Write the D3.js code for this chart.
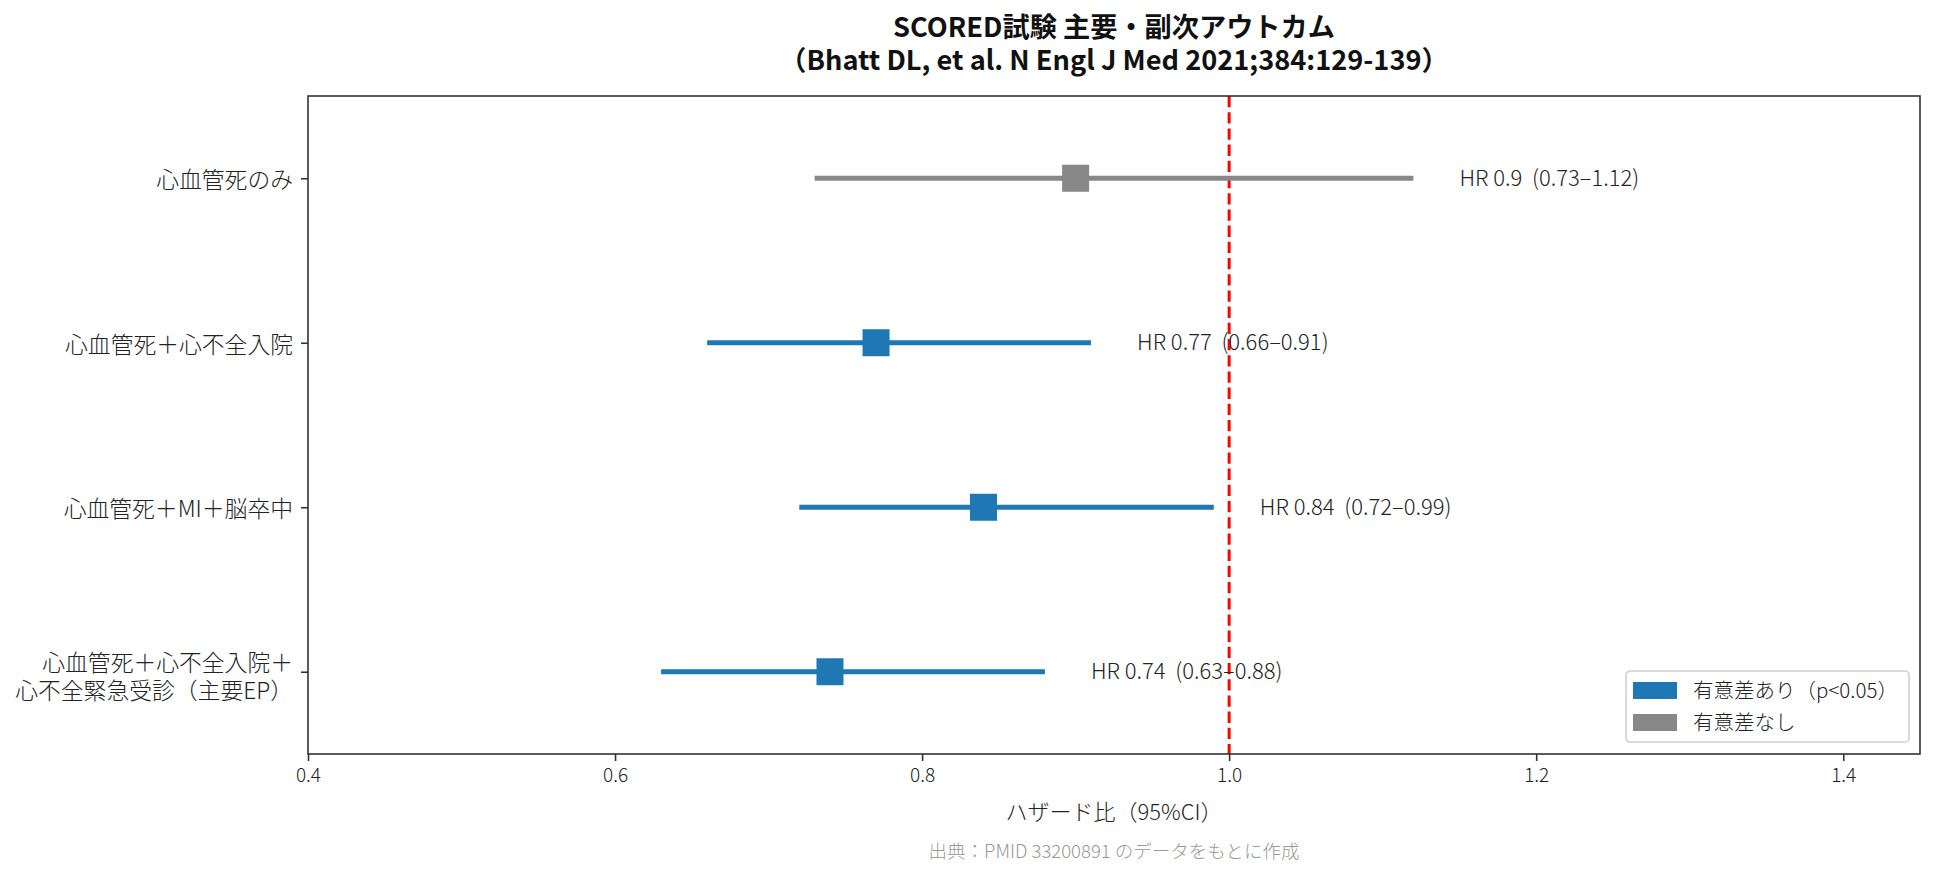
<!DOCTYPE html>
<html>
<head>
<meta charset="utf-8">
<script src="https://cdn.jsdelivr.net/npm/d3@7"></script>
<style>
  body { margin: 0; background: #fff; }
  svg text { font-family: "Noto Sans CJK JP", "Noto Sans", sans-serif; }
</style>
</head>
<body>
<div id="chart"></div>
<script>
// values
const outcomes = ["心血管死のみ", "心血管死＋心不全入院", "心血管死＋MI＋脳卒中", "心血管死＋心不全入院＋\n心不全緊急受診（主要EP）"];
const hr = [0.9, 0.77, 0.84, 0.74];
const ciLow = [0.73, 0.66, 0.72, 0.63];
const ciHigh = [1.12, 0.91, 0.99, 0.88];
const significant = [false, true, true, true];
const xTicks = [0.4, 0.6, 0.8, 1.0, 1.2, 1.4];
const legendLabels = ["有意差あり（p<0.05）", "有意差なし"];

const width = 1934, height = 878;
const padding = { t: 96, b: 124, s: 308, e: 14 };
const blue = "#1f77b4", grey = "#888888";

const svg = d3.select("#chart").append("svg").attr("width", width).attr("height", height);
svg.append("rect").attr("width", width).attr("height", height).attr("fill", "#fff");

const xScale = d3.scaleLinear().domain([0.4, 1.45]).range([padding.s, width - padding.e]);
const yScale = d3.scalePoint().domain(outcomes).range([padding.t, height - padding.b]).padding(0.5);
const cx = (padding.s + width - padding.e) / 2;

// title, two lines
svg.append("text").attr("x", cx).attr("y", 37).attr("text-anchor", "middle")
  .attr("font-size", 27.2).attr("font-weight", 700).attr("fill", "#111")
  .text("SCORED試験 主要・副次アウトカム");
svg.append("text").attr("x", cx).attr("y", 70).attr("text-anchor", "middle")
  .attr("font-size", 27.2).attr("font-weight", 700).attr("fill", "#111")
  .text("（Bhatt DL, et al. N Engl J Med 2021;384:129-139）");

// reference line at HR = 1
svg.append("line")
  .attr("x1", xScale(1)).attr("x2", xScale(1))
  .attr("y1", padding.t).attr("y2", height - padding.b)
  .attr("stroke", "red").attr("stroke-width", 3).attr("stroke-dasharray", "11.3,4.9");

const rows = svg.selectAll("g.row").data(outcomes).join("g")
  .attr("class", "row")
  .attr("transform", (d) => `translate(0, ${yScale(d)})`);

rows.append("line")
  .attr("x1", (d, i) => xScale(ciLow[i]))
  .attr("x2", (d, i) => xScale(ciHigh[i]))
  .attr("stroke", (d, i) => (significant[i] ? blue : grey))
  .attr("stroke-width", 5);

rows.append("rect")
  .attr("x", (d, i) => xScale(hr[i]) - 13.5)
  .attr("y", -13.5)
  .attr("width", 27).attr("height", 27)
  .attr("fill", (d, i) => (significant[i] ? blue : grey));

rows.append("text")
  .attr("x", (d, i) => xScale(ciHigh[i] + 0.03))
  .attr("y", 0).attr("dy", "0.35em")
  .attr("font-size", 22).attr("font-weight", 300).attr("fill", "#222")
  .style("white-space", "pre")
  .text((d, i) => `HR ${hr[i]}  (${ciLow[i].toFixed(2)}–${ciHigh[i].toFixed(2)})`);

// frame
svg.append("rect")
  .attr("x", padding.s).attr("y", padding.t)
  .attr("width", width - padding.e - padding.s).attr("height", height - padding.b - padding.t)
  .attr("fill", "none").attr("stroke", "#333").attr("stroke-width", 1.6);

// x axis
const xAxis = svg.append("g")
  .attr("transform", `translate(0, ${height - padding.b})`)
  .call(d3.axisBottom(xScale).tickValues(xTicks).tickFormat(d3.format(".1f")).tickSize(7).tickPadding(8));
xAxis.select(".domain").remove();
xAxis.selectAll("line").attr("stroke", "#333").attr("stroke-width", 1.6);
xAxis.selectAll("text").attr("font-size", 19).attr("font-weight", 300).attr("fill", "#222")
  .attr("font-family", "Noto Sans CJK JP");

// y axis, multi-line labels split on \n
const yAxis = svg.append("g")
  .attr("transform", `translate(${padding.s}, 0)`)
  .call(d3.axisLeft(yScale).tickSize(7).tickPadding(8));
yAxis.select(".domain").remove();
yAxis.selectAll("line").attr("stroke", "#333").attr("stroke-width", 1.6);
yAxis.selectAll("text").each(function (d) {
  const t = d3.select(this).text(null).attr("font-size", 22.8).attr("font-weight", 300)
    .attr("fill", "#222").attr("font-family", "Noto Sans CJK JP").attr("dy", null);
  const lines = d.split("\n");
  lines.forEach((line, j) => {
    const off = lines.length === 1 ? 9.5 : (j === 0 ? -1 : 26.7);
    t.append("tspan").attr("x", -15).attr("y", off).text(line);
  });
});

// axis label and source
svg.append("text").attr("x", cx).attr("y", 820).attr("text-anchor", "middle")
  .attr("font-size", 22).attr("font-weight", 300).attr("fill", "#222").text("ハザード比（95%CI）");
svg.append("text").attr("x", cx).attr("y", 858).attr("text-anchor", "middle")
  .attr("font-size", 18.5).attr("font-weight", 300).attr("fill", "#999")
  .text("出典：PMID 33200891 のデータをもとに作成");

// legend
const legend = svg.append("g").attr("transform", "translate(1626, 671)");
legend.append("rect").attr("width", 283).attr("height", 71).attr("rx", 4)
  .attr("fill", "#fff").attr("fill-opacity", 0.8).attr("stroke", "#d0d0d0").attr("stroke-width", 1.6);
const items = legend.selectAll("g").data(legendLabels).join("g")
  .attr("transform", (d, i) => `translate(7, ${11 + i * 32})`);
items.append("rect").attr("width", 44).attr("height", 17)
  .attr("fill", (d, i) => (i === 0 ? blue : grey));
items.append("text").attr("x", 60).attr("y", 8.5).attr("dy", "0.35em")
  .attr("font-size", 20.5).attr("font-weight", 300).attr("fill", "#222").text((d) => d);
</script>
</body>
</html>
